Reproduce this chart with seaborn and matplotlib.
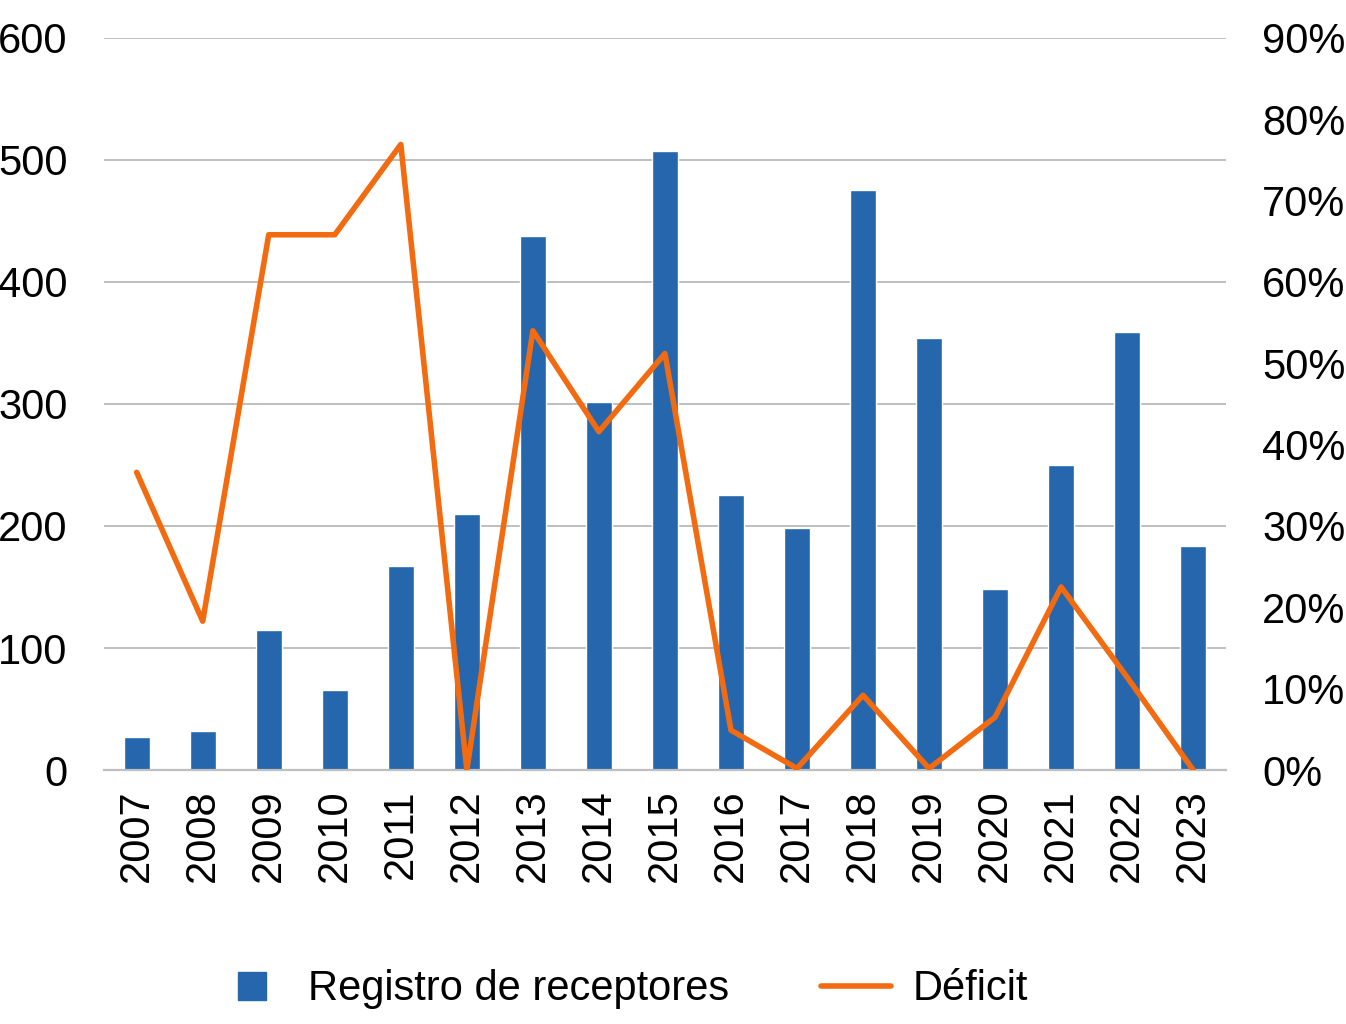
import numpy as np
import pandas as pd
import matplotlib
matplotlib.use("Agg")
import matplotlib.pyplot as plt
from matplotlib.lines import Line2D
from matplotlib.ticker import PercentFormatter
import seaborn as sns

years = ["2007", "2008", "2009", "2010", "2011", "2012", "2013", "2014", "2015",
         "2016", "2017", "2018", "2019", "2020", "2021", "2022", "2023"]
registro = [27, 32, 115, 66, 167, 210, 438, 302, 507, 225, 198, 475, 354, 148, 250, 359, 184]
deficit = [36.6, 18.3, 65.8, 65.8, 76.9, 0.0, 54.0, 41.6, 51.2, 4.9, 0.2, 9.2, 0.2, 6.5, 22.5, 11.4, 0.0]

left_ticks = [0, 100, 200, 300, 400, 500, 600]
right_ticks = [0, 10, 20, 30, 40, 50, 60, 70, 80, 90]

BLUE = "#2566AD"
ORANGE = "#F26B10"
GRID = "#BFBFBF"
FS = 30

sns.set_theme(style="white")
plt.rcParams['font.family'] = ['Liberation Sans Narrow', 'Liberation Sans', 'DejaVu Sans']
plt.rcParams['text.color'] = 'black'

df = pd.DataFrame({"year": years, "registro": registro, "deficit": deficit})

fig = plt.figure(figsize=(13.46, 10.24), dpi=100)
ax = fig.add_axes([0.077, 0.248, 0.834, 0.715])

sns.barplot(data=df, x="year", y="registro", color=BLUE, width=0.39,
            saturation=1, ax=ax, zorder=2)
ax.set_ylim(0, 600)
ax.set_xlim(-0.5, len(years) - 0.5)
ax.set_yticks(left_ticks)
ax.yaxis.grid(True, color=GRID, linewidth=1.4, zorder=0)
ax.set_axisbelow(True)
for s in ["top", "right", "left"]:
    ax.spines[s].set_visible(False)
ax.spines["bottom"].set_color(GRID)
ax.spines["bottom"].set_linewidth(1.6)
ax.set_xlabel("")
ax.set_ylabel("")
ax.tick_params(axis="y", labelsize=FS, length=0, pad=26, labelcolor="black")
ax.tick_params(axis="x", labelsize=FS, length=0, pad=14, labelrotation=90, labelcolor="black")

ax2 = ax.twinx()
sns.lineplot(x=np.arange(len(years)), y=df["deficit"], color=ORANGE, linewidth=4.0,
             ax=ax2, zorder=3)
ax2.set_ylim(0, 90)
ax2.set_yticks(right_ticks)
ax2.yaxis.set_major_formatter(PercentFormatter(decimals=0))
for s in ["top", "right", "left", "bottom"]:
    ax2.spines[s].set_visible(False)
ax2.set_ylabel("")
ax2.tick_params(axis="y", labelsize=FS, length=0, pad=26, labelcolor="black")

handles = [
    Line2D([], [], marker="s", linestyle="none", color=BLUE, markersize=20),
    Line2D([], [], color=ORANGE, linewidth=4.0),
]
leg = fig.legend(handles, ["Registro de receptores", "Déficit"], loc="center",
                 bbox_to_anchor=(0.462, 0.034), ncol=2, frameon=False, fontsize=FS,
                 handlelength=1.7, handletextpad=0.5, columnspacing=2.2)
for t in leg.get_texts():
    t.set_color("black")

fig.savefig("out.png", dpi=100)
